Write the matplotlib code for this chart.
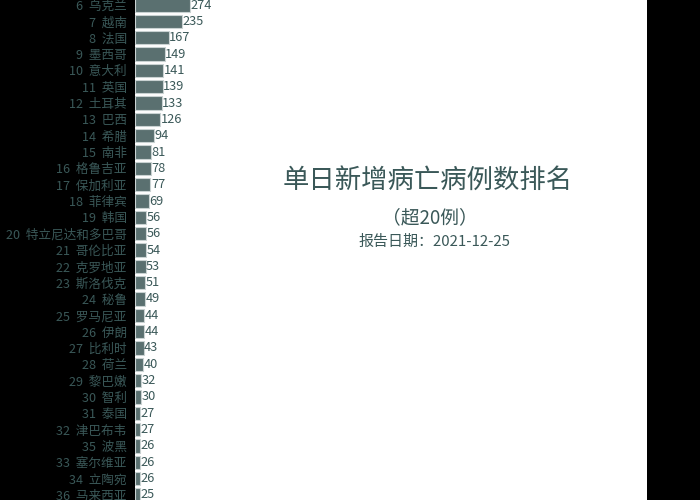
import numpy as np
import matplotlib
matplotlib.use("Agg")
import matplotlib.pyplot as plt

plt.rcParams['font.family'] = ['Noto Sans CJK SC', 'DejaVu Sans']

# ranks as printed (rows 6..36 visible)
ranks = [6, 7, 8, 9, 10, 11, 12, 13, 14, 15, 16, 17, 18, 19, 20, 21, 22, 23, 24, 25,
         26, 27, 28, 29, 30, 31, 32, 35, 33, 34, 36]
countries = ["乌克兰", "越南", "法国", "墨西哥", "意大利", "英国", "土耳其", "巴西", "希腊", "南非",
             "格鲁吉亚", "保加利亚", "菲律宾", "韩国", "特立尼达和多巴哥", "哥伦比亚", "克罗地亚",
             "斯洛伐克", "秘鲁", "罗马尼亚", "伊朗", "比利时", "荷兰", "黎巴嫩", "智利", "泰国",
             "津巴布韦", "波黑", "塞尔维亚", "立陶宛", "马来西亚"]
deaths = [274, 235, 167, 149, 141, 139, 133, 126, 94, 81, 78, 77, 69, 56, 56, 54, 53, 51, 49, 44,
          44, 43, 40, 32, 30, 27, 27, 26, 26, 26, 25]

title = "单日新增病亡病例数排名"
subtitle = "（超20例）"
report_date = "报告日期：2021-12-25"

bar_color = "#5a7070"
text_color = "#3a5858"

fig = plt.figure(figsize=(7, 5), dpi=100, facecolor="black")
ax = fig.add_axes([135 / 700, 0, 512 / 700, 1])
ax.set_facecolor("white")

pos = np.arange(6, 6 + len(deaths))
ax.barh(pos, deaths, height=0.82, color=bar_color, edgecolor="#c9d2d2", linewidth=0.8)

for p, v in zip(pos, deaths):
    ax.text(v + 2, p, str(v), va="center", ha="left", fontsize=9.2, color=text_color)

ax.set_yticks(pos)
ax.set_yticklabels([f"{r}  {c}" for r, c in zip(ranks, countries)], fontsize=9.1, color=text_color)
ax.tick_params(axis="y", length=0, pad=6)
ax.set_xticks([])
for s in ax.spines.values():
    s.set_visible(False)

ax.set_xlim(0, 2550)
ax.set_ylim(36.31, 5.69)

fig.text(428 / 700, 1 - 180 / 500, title, ha="center", va="center", fontsize=19, color=text_color)
fig.text(430 / 700, 1 - 218 / 500, subtitle, ha="center", va="center", fontsize=13.5, color=text_color)
fig.text(434 / 700, 1 - 242 / 500, report_date, ha="center", va="center", fontsize=10.8, color=text_color)

fig.savefig("out.png", dpi=100, facecolor="black")
